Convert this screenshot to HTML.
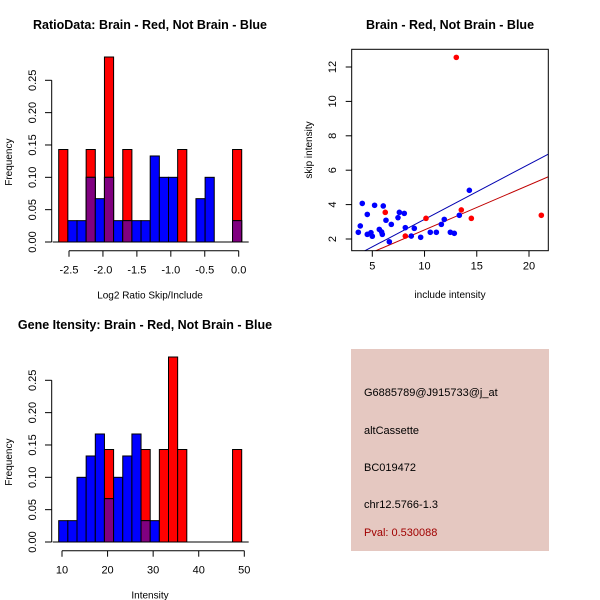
<!DOCTYPE html>
<html><head><meta charset="utf-8"><style>
body{margin:0;background:#fff}
svg{display:block;font-family:"Liberation Sans",sans-serif}
</style></head><body>
<svg id="s" width="600" height="600" viewBox="0 0 600 600">
<rect width="600" height="600" fill="#fff"/>
<text x="150" y="29" text-anchor="middle" font-weight="bold" font-size="12.5">RatioData: Brain - Red, Not Brain - Blue</text>
<text x="450" y="29" text-anchor="middle" font-weight="bold" font-size="12.5">Brain - Red, Not Brain - Blue</text>
<text x="145" y="329" text-anchor="middle" font-weight="bold" font-size="12.5">Gene Itensity: Brain - Red, Not Brain - Blue</text>
<g>
<rect x="351" y="349" width="198" height="202" fill="#e5c8c1"/>
<text x="364" y="396" font-size="11">G6885789@J915733@j_at</text>
<text x="364" y="434" font-size="11">altCassette</text>
<text x="364" y="471" font-size="11">BC019472</text>
<text x="364" y="508" font-size="11">chr12.5766-1.3</text>
<text x="364" y="536" font-size="11" fill="#a00000">Pval: 0.530088</text>
</g>
<g id="g"></g>
</svg>
<script>
// Ratio histogram (20 bins)
const ratioRed  = [0.143,0,0,0.143,0,0.286,0,0.143,0,0,0,0,0,0.143,0,0,0,0,0,0.143];
const ratioBlue = [0,0.033,0.033,0.1,0.067,0.1,0.033,0.033,0.033,0.033,0.133,0.1,0.1,0,0,0.067,0.1,0,0,0.033];
const ratioXTicks = [-2.5,-2.0,-1.5,-1.0,-0.5,0.0];
const freqTicks = [0,0.05,0.10,0.15,0.20,0.25];
// Intensity histogram (bins width 2 from 9.3)
const intRed  = [0,0,0,0,0,0.143,0,0,0,0.143,0,0.143,0.286,0.143,0,0,0,0,0,0.143];
const intBlue = [0.033,0.033,0.1,0.133,0.167,0.067,0.1,0.133,0.167,0.033,0.033,0,0,0,0,0,0,0,0,0];
const intXTicks = [10,20,30,40,50];
// Scatter
const blueX = [3.66,3.85,4.04,4.52,4.52,4.87,5.0,5.22,5.67,5.89,5.96,6.05,6.31,6.63,6.82,7.46,7.59,8.06,8.16,8.73,9.02,9.63,10.55,11.13,11.61,11.89,12.47,12.85,13.33,14.29];
const blueY = [2.39,2.76,4.07,3.43,2.27,2.37,2.16,3.96,2.56,2.41,2.27,3.92,3.09,1.84,2.85,3.24,3.55,3.49,2.66,2.17,2.62,2.10,2.39,2.39,2.85,3.14,2.39,2.33,3.38,4.83];
const redX = [6.24,8.16,10.14,13.04,13.52,14.48,21.18];
const redY = [3.55,2.17,3.20,12.56,3.69,3.20,3.38];
const blueFit = [-0.056,0.320];
const redFit = [-0.074,0.2606];
const scXTicks = [5,10,15,20];
const scYTicks = [2,4,6,8,10,12];

const NS="http://www.w3.org/2000/svg", G=document.getElementById('g');
function mk(t,a,p){const e=document.createElementNS(NS,t);for(const k in a)e.setAttribute(k,a[k]);(p||G).appendChild(e);return e;}

function hist(red,blue,xTicks,x0,binW,xScale,xOff,base,top,xlabel,prefix){
  const ys=v=>base-(base-top)*v/0.25;
  for(let i=0;i<red.length;i++){
    const x=x0+i*binW;
    const r=red[i],b=blue[i];
    if(r>0){const e=mk('rect',{x:x,y:ys(r),width:binW,height:base-ys(r),fill:'#ff0000',stroke:'#000','stroke-width':1});
      
      }
    if(b>0){const e=mk('rect',{x:x,y:ys(b),width:binW,height:base-ys(b),fill:'#0000ff',stroke:'#000','stroke-width':1});
      
      }
    if(r>0&&b>0){const m=Math.min(r,b);const e=mk('rect',{x:x,y:ys(m),width:binW,height:base-ys(m),fill:'#800080',stroke:'#000','stroke-width':1});
      
      }
  }
  mk('line',{x1:x0-6,x2:x0+red.length*binW+7,y1:base,y2:base,stroke:'#000'});
  // y axis
  mk('line',{x1:51.7,x2:51.7,y1:base,y2:ys(0.25),stroke:'#000'});
  freqTicks.forEach(v=>{const y=ys(v);mk('line',{x1:45,x2:51.7,y1:y,y2:y,stroke:'#000'});
    const t=mk('text',{x:0,y:0,transform:`translate(36,${y}) rotate(-90)`,'text-anchor':'middle','font-size':11});t.textContent=v.toFixed(2);
    
    });
  const yt=mk('text',{transform:`translate(12,${(base+top)/2+1}) rotate(-90)`,'text-anchor':'middle','font-size':10});yt.textContent='Frequency';
  
  
  // x axis
  const ay=base+8.7;
  const xs=v=>xOff+(v-xTicks[0])*xScale;
  mk('line',{x1:xs(xTicks[0]),x2:xs(xTicks[xTicks.length-1]),y1:ay,y2:ay,stroke:'#000'});
  xTicks.forEach(v=>{const x=xs(v);mk('line',{x1:x,x2:x,y1:ay,y2:ay+6,stroke:'#000'});
    const t=mk('text',{x:x,y:ay+23,'text-anchor':'middle','font-size':11});t.textContent=(Number.isInteger(v)&&xTicks.some(u=>!Number.isInteger(u)))||xTicks[0]<0?v.toFixed(1):String(v);
    
    });
  const xt=mk('text',{x:150,y:ay+48,'text-anchor':'middle','font-size':10});xt.textContent=xlabel;
  
  
}
hist(ratioRed,ratioBlue,ratioXTicks,58.7,9.15,(238.7-69)/2.5,69,242,80.3,'Log2 Ratio Skip/Include','ratio');
hist(intRed,intBlue,intXTicks,58.7,9.15,(244.3-62)/40,62,542,380.3,'Intensity','intensity');

// scatter
const L=351.7,R=548.3,T=49.3,B=250.7;
const sx=v=>372.3+(v-5)*(529-372.3)/15;
const sy=v=>239-(v-2)*(239-67)/10;
const cp=mk('clipPath',{id:'cp'});mk('rect',{x:L,y:T,width:R-L,height:B-T},cp);
function fit(f,c,n){const x1=2,x2=23;const e=mk('line',{x1:sx(x1),x2:sx(x2),y1:sy(f[0]+f[1]*x1),y2:sy(f[0]+f[1]*x2),stroke:c,'stroke-width':1,'clip-path':'url(#cp)'});
  
  }
fit(blueFit,'#0000b0','blue-fit-line');fit(redFit,'#c00000','red-fit-line');
blueX.forEach((x,i)=>{const c=mk('circle',{cx:sx(x),cy:sy(blueY[i]),r:2.8,fill:'#0000ff'});
  
  });
redX.forEach((x,i)=>{const c=mk('circle',{cx:sx(x),cy:sy(redY[i]),r:2.8,fill:'#ff0000'});
  
  });
mk('rect',{x:L,y:T,width:R-L,height:B-T,fill:'none',stroke:'#000'});
scXTicks.forEach(v=>{const x=sx(v);mk('line',{x1:x,x2:x,y1:B,y2:B+6,stroke:'#000'});
  const t=mk('text',{x:x,y:B+19,'text-anchor':'middle','font-size':11});t.textContent=v;
  
  });
scYTicks.forEach(v=>{const y=sy(v);mk('line',{x1:L-6,x2:L,y1:y,y2:y,stroke:'#000'});
  const t=mk('text',{transform:`translate(336,${y}) rotate(-90)`,'text-anchor':'middle','font-size':11});t.textContent=v;
  
  });
const sxt=mk('text',{x:450,y:298,'text-anchor':'middle','font-size':10});sxt.textContent='include intensity';


const syt=mk('text',{transform:`translate(312,150) rotate(-90)`,'text-anchor':'middle','font-size':10});syt.textContent='skip intensity';


</script>
</body></html>
